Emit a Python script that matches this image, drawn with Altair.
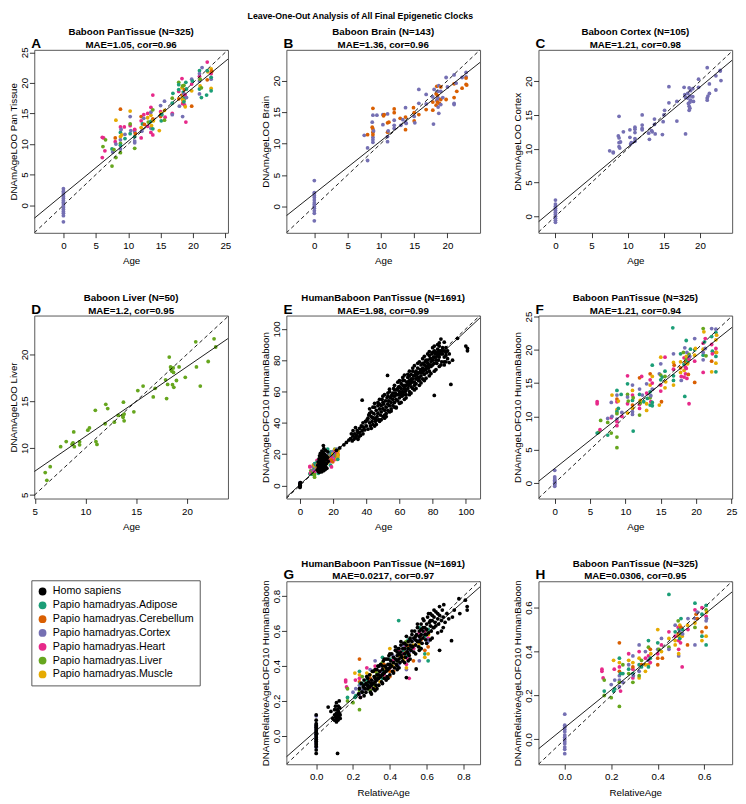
import altair as alt
import pandas as pd

FONT = "Liberation Sans"
TISSUES = ["Homo sapiens", "Papio hamadryas.Adipose", "Papio hamadryas.Cerebellum",
           "Papio hamadryas.Cortex", "Papio hamadryas.Heart", "Papio hamadryas.Liver",
           "Papio hamadryas.Muscle"]
CODES = ["H", "A", "B", "C", "R", "L", "M"]
COLORS = ["#000000", "#1B9E77", "#D95F02", "#7570B3", "#E7298A", "#66A61E", "#E6AB02"]

# ---------------- Panel A: Baboon PanTissue (age, DNAmAgeLOO, tissue) -------------
A_PTS = [
    (0, 2.7, "C"), (0, 2.3, "C"), (0, 2.0, "C"), (0, 1.7, "C"), (0, 1.4, "C"), (0, 1.1, "C"),
    (0, 0.8, "C"), (0, 0.5, "C"), (0, 0.2, "C"), (0, -0.1, "C"), (0, -0.4, "C"), (0, -0.7, "C"),
    (0, -1.0, "C"), (0, -1.3, "C"), (0, -1.7, "C"), (0, -2.7, "C"),
    (6.0, 11.1, "R"), (6.0, 7.8, "R"), (6.1, 9.6, "L"), (6.2, 11.0, "R"), (6.5, 10.7, "L"), (6.4, 8.9, "R"),
    (7.5, 9.2, "A"), (7.5, 6.4, "L"), (7.6, 8.7, "C"), (7.8, 9.1, "L"),
    (8.0, 10.4, "R"), (8.1, 13.9, "M"), (8.1, 10.0, "C"), (8.1, 7.8, "L"), (8.0, 11.0, "B"),
    (8.8, 15.7, "B"), (8.8, 12.8, "R"), (8.8, 11.9, "A"), (8.8, 11.2, "M"), (8.8, 10.7, "C"),
    (8.8, 10.1, "L"), (8.8, 9.8, "A"), (8.8, 9.2, "C"), (8.8, 8.6, "L"), (8.9, 12.4, "C"), (9.0, 11.5, "M"),
    (9.4, 12.8, "R"), (9.5, 10.9, "A"), (9.5, 11.6, "C"),
    (10.3, 15.4, "M"), (10.3, 14.5, "C"), (10.3, 13.0, "R"), (10.3, 11.7, "A"), (10.3, 13.3, "L"), (10.4, 12.2, "C"),
    (11.0, 12.3, "M"), (11.0, 12.0, "C"), (11.0, 11.2, "A"), (11.0, 10.2, "C"), (11.0, 9.3, "L"),
    (11.0, 12.4, "R"), (11.0, 10.5, "C"), (11.1, 11.7, "B"),
    (12.0, 14.5, "B"), (12.0, 13.8, "R"), (12.0, 12.7, "M"), (12.0, 11.0, "R"), (12.1, 12.1, "C"), (12.2, 13.3, "A"),
    (12.4, 14.8, "R"), (12.5, 13.2, "B"), (12.4, 14.2, "C"),
    (13.0, 12.9, "R"), (13.0, 14.3, "M"), (13.1, 13.6, "L"), (13.0, 15.0, "R"),
    (13.5, 16.0, "R"), (13.5, 14.7, "M"), (13.5, 13.7, "A"), (13.5, 12.6, "C"), (13.5, 11.9, "R"),
    (13.6, 13.0, "M"), (13.5, 15.2, "C"),
    (13.8, 18.0, "R"), (13.8, 14.1, "B"), (13.8, 12.5, "A"), (13.8, 11.5, "R"), (13.9, 13.8, "M"), (13.8, 15.6, "L"),
    (14.8, 12.2, "M"), (15.0, 15.3, "R"), (15.0, 14.5, "B"), (15.0, 16.3, "C"), (15.1, 15.0, "M"),
    (15.1, 13.8, "A"), (15.2, 14.8, "A"),
    (15.6, 17.0, "C"), (15.6, 15.5, "M"), (15.7, 14.4, "R"), (15.6, 13.9, "L"),
    (16.8, 17.5, "L"), (16.8, 16.7, "A"), (16.8, 15.0, "R"), (16.9, 18.3, "A"), (16.8, 14.8, "C"),
    (17.8, 20.1, "L"), (17.8, 18.6, "R"), (17.8, 18.9, "A"), (17.9, 16.2, "C"), (17.8, 17.4, "B"), (17.8, 19.7, "A"),
    (18.3, 20.7, "R"), (18.3, 19.2, "M"), (18.3, 18.0, "B"), (18.4, 17.3, "M"), (18.4, 16.6, "R"),
    (18.4, 14.5, "C"), (18.5, 17.8, "M"), (18.5, 16.9, "B"), (18.5, 18.5, "A"), (18.6, 19.6, "L"),
    (18.6, 18.2, "C"), (18.6, 17.1, "M"), (18.7, 16.4, "R"), (18.7, 18.9, "B"), (18.7, 17.5, "A"),
    (18.8, 16.1, "M"), (18.8, 18.0, "R"), (18.9, 13.6, "R"), (19.0, 19.0, "A"), (19.0, 17.6, "C"),
    (18.9, 20.1, "A"), (18.5, 17.2, "M"), (18.4, 19.5, "L"), (18.6, 16.9, "A"),
    (19.8, 20.6, "C"), (19.8, 19.8, "R"), (19.8, 16.2, "B"), (19.8, 18.7, "M"), (19.9, 20.3, "A"),
    (21.0, 22.0, "A"), (21.0, 21.1, "R"), (21.0, 20.3, "C"), (21.0, 19.0, "A"), (21.0, 18.2, "C"),
    (21.1, 20.6, "L"), (21.0, 21.5, "C"), (21.1, 19.5, "M"),
    (21.3, 17.6, "A"), (21.3, 19.2, "L"), (21.4, 22.5, "C"),
    (22.2, 23.4, "R"), (22.2, 20.5, "B"), (22.1, 18.0, "A"), (22.3, 21.8, "M"), (22.2, 22.0, "A"),
    (22.8, 22.3, "M"), (22.8, 21.5, "R"), (22.8, 20.6, "C"), (22.8, 19.1, "M"), (22.8, 18.7, "A"),
    (22.8, 20.9, "A"), (22.9, 21.9, "B"),
]

# ---------------- Panel B: Baboon Brain ----------------
B_PTS = [
    (0, 4.1, "C"), (0, 2.2, "C"), (0, 2.0, "C"), (0, 1.7, "C"), (0, 1.4, "C"), (0, 1.0, "C"), (0, 0.6, "C"),
    (0, 0.3, "C"), (0, 0.0, "C"), (0, -0.3, "C"), (0, -0.7, "C"), (0, -1.1, "C"), (0, -2.3, "C"),
    (7.5, 11.3, "C"), (8.0, 11.4, "B"), (8.0, 7.3, "C"), (8.0, 9.3, "C"), (8.7, 13.4, "C"), (8.7, 12.6, "B"),
    (8.8, 15.6, "B"), (8.8, 14.5, "C"), (8.8, 12.3, "B"), (8.8, 11.8, "B"), (8.8, 11.0, "C"), (8.8, 10.6, "C"),
    (8.8, 10.2, "C"), (8.9, 12.0, "C"), (8.8, 11.4, "B"), (9.4, 14.5, "C"), (10.3, 14.6, "C"), (10.3, 13.0, "C"),
    (10.4, 14.4, "B"), (10.5, 14.6, "B"), (11.0, 14.7, "C"), (11.0, 13.3, "B"), (11.0, 11.8, "B"), (11.0, 11.1, "C"),
    (11.0, 10.3, "C"), (11.1, 12.0, "C"), (11.2, 13.4, "B"), (12.0, 15.5, "B"), (12.0, 14.9, "B"), (12.0, 13.7, "C"),
    (12.0, 12.9, "C"), (12.0, 12.4, "C"), (12.9, 14.0, "B"), (13.0, 12.9, "C"), (13.3, 13.8, "C"), (13.7, 15.7, "C"),
    (13.7, 14.2, "B"), (13.7, 13.4, "C"), (13.7, 12.2, "B"), (13.8, 13.2, "C"), (14.9, 15.7, "B"), (15.0, 14.9, "B"),
    (15.0, 13.6, "B"), (15.0, 14.3, "C"), (15.1, 13.3, "C"), (15.7, 18.6, "C"), (15.7, 16.4, "C"), (15.7, 14.6, "B"),
    (16.8, 15.4, "B"), (16.8, 16.3, "C"), (16.8, 17.8, "C"), (17.8, 17.4, "C"), (17.8, 16.6, "B"), (17.8, 15.3, "B"),
    (17.9, 13.1, "C"), (18.0, 18.6, "C"), (18.3, 17.9, "B"), (18.3, 16.1, "B"), (18.4, 19.1, "B"), (18.4, 16.9, "C"),
    (18.5, 17.6, "B"), (18.5, 16.6, "B"), (18.6, 15.8, "C"), (18.6, 18.3, "C"), (18.6, 17.2, "C"), (18.7, 14.8, "C"),
    (18.7, 19.2, "C"), (18.8, 16.4, "B"), (19.0, 18.3, "C"), (19.0, 17.0, "B"), (19.0, 16.2, "C"), (19.0, 19.0, "B"),
    (19.3, 17.3, "C"), (19.8, 20.5, "C"), (19.8, 17.0, "B"), (20.0, 19.0, "C"), (21.0, 20.9, "C"), (21.0, 19.5, "B"),
    (21.0, 17.3, "B"), (21.0, 16.4, "C"), (21.0, 16.2, "C"), (21.3, 19.6, "C"), (21.4, 18.3, "B"), (22.2, 20.5, "C"),
    (22.2, 18.8, "B"), (22.8, 21.3, "C"), (22.8, 20.6, "C"), (22.8, 20.4, "B"), (22.8, 19.4, "B"), (22.9, 19.3, "B"),
]

# ---------------- Panel C: Baboon Cortex ----------------
C_PTS = [
    (0, 2.4, "C"), (0, 1.8, "C"), (0, 1.5, "C"), (0, 1.2, "C"), (0, 0.9, "C"), (0, 0.6, "C"), (0, 0.3, "C"),
    (0, 0.0, "C"), (0, -0.3, "C"), (0, -0.6, "C"), (0, -0.9, "C"),
    (7.5, 9.7, "C"), (8.0, 9.5, "C"), (8.0, 9.4, "C"), (8.7, 11.9, "C"), (8.8, 14.8, "C"), (8.8, 11.6, "C"),
    (8.8, 10.9, "C"), (8.8, 10.3, "C"), (8.9, 10.1, "C"), (9.0, 11.0, "C"), (9.4, 12.5, "C"), (10.3, 12.8, "C"),
    (10.3, 11.7, "C"), (10.4, 10.7, "C"), (10.5, 10.9, "C"), (11.0, 13.2, "C"), (11.0, 12.9, "C"), (11.0, 12.4, "C"),
    (11.0, 11.5, "C"), (11.0, 11.1, "C"), (12.0, 15.0, "C"), (12.0, 13.5, "C"), (12.0, 13.0, "C"), (12.0, 12.8, "C"),
    (12.9, 12.3, "C"), (13.0, 11.4, "C"), (13.3, 12.7, "C"), (13.4, 12.5, "C"), (13.7, 14.4, "C"), (13.7, 13.6, "C"),
    (13.8, 12.2, "C"), (14.8, 12.1, "C"), (14.9, 14.0, "C"), (15.0, 15.0, "C"), (15.1, 15.7, "C"), (15.7, 19.2, "C"),
    (15.7, 16.8, "C"), (16.8, 17.0, "C"), (16.8, 14.1, "C"), (17.8, 19.1, "C"), (17.9, 18.0, "C"), (18.0, 12.2, "C"),
    (18.0, 17.6, "C"), (18.3, 18.2, "C"), (18.3, 17.5, "C"), (18.4, 16.7, "C"), (18.5, 16.3, "C"), (18.5, 15.7, "C"),
    (18.5, 19.0, "C"), (18.6, 17.8, "C"), (18.6, 16.9, "C"), (18.6, 16.0, "C"), (18.7, 17.2, "C"), (18.7, 18.6, "C"),
    (19.0, 18.9, "C"), (19.0, 17.7, "C"), (19.1, 17.0, "C"), (19.8, 20.3, "C"), (19.8, 19.1, "C"), (21.0, 22.0, "C"),
    (21.0, 17.5, "C"), (21.0, 17.2, "C"), (21.1, 17.8, "C"), (21.3, 19.6, "C"), (21.3, 18.2, "C"), (22.2, 18.7, "C"),
    (22.2, 20.8, "C"), (22.8, 21.6, "C"), (22.8, 21.5, "C"), (22.9, 20.1, "C"),
]

# ---------------- Panel D: Baboon Liver ----------------
D_PTS = [
    (6.03, 7.38, "L"), (6.19, 6.55, "L"), (6.52, 8.0, "L"), (7.55, 10.14, "L"), (8.1, 10.69, "L"),
    (8.68, 10.41, "L"), (8.77, 10.55, "L"), (8.84, 11.72, "L"), (8.9, 10.14, "L"), (9.42, 10.66, "L"),
    (9.42, 10.34, "L"), (10.23, 11.9, "L"), (10.39, 12.14, "L"), (10.97, 14.03, "L"), (11.03, 10.69, "L"),
    (11.13, 10.38, "L"), (12.0, 14.66, "L"), (12.19, 14.21, "L"), (11.94, 12.59, "L"), (12.84, 12.76, "L"),
    (13.23, 13.48, "L"), (13.68, 13.45, "L"), (13.71, 13.28, "L"), (13.81, 13.62, "L"), (13.74, 14.9, "L"),
    (13.81, 12.9, "L"), (14.77, 13.86, "L"), (15.16, 16.14, "L"), (15.68, 16.62, "L"), (16.68, 15.45, "L"),
    (16.87, 16.38, "L"), (17.9, 17.28, "L"), (18.0, 15.28, "L"), (18.1, 16.79, "L"), (18.26, 19.72, "L"),
    (18.39, 18.66, "L"), (18.45, 18.41, "L"), (18.52, 18.2, "L"), (18.58, 16.76, "L"), (18.65, 18.55, "L"),
    (18.68, 18.07, "L"), (18.71, 16.48, "L"), (18.97, 17.21, "L"), (19.23, 18.66, "L"), (19.84, 17.55, "L"),
    (20.87, 21.34, "L"), (20.94, 18.66, "L"), (21.32, 16.62, "L"), (22.1, 19.24, "L"), (22.68, 21.66, "L"),
    (22.84, 20.79, "L"),
]

# ---------------- Panel F: Baboon PanTissue, HumanBaboon clock ----------------
F_PTS = [
    (0, 1.9, "C"), (0, 0.9, "C"), (0, 0.6, "C"), (0, 0.4, "C"), (0, 0.2, "C"), (0, 0.0, "C"), (0, -0.1, "C"),
    (0, -0.3, "C"), (0, -0.5, "C"),
    (6.0, 12.2, "R"), (6.0, 11.9, "R"), (6.2, 7.6, "L"), (6.0, 7.5, "A"), (6.5, 9.4, "L"), (6.4, 8.0, "R"),
    (7.5, 9.7, "C"), (7.5, 7.2, "A"), (7.5, 9.1, "L"), (8.0, 9.8, "R"), (8.0, 7.5, "L"), (8.0, 12.1, "C"),
    (8.1, 13.2, "M"), (8.1, 10.0, "C"),
    (8.8, 13.9, "A"), (8.8, 13.2, "C"), (8.8, 12.6, "B"), (8.8, 12.2, "R"), (8.8, 11.0, "M"), (8.8, 10.7, "A"),
    (8.8, 10.4, "L"), (8.8, 9.6, "C"), (8.8, 9.2, "R"), (8.8, 8.6, "R"), (8.8, 6.9, "L"), (8.8, 5.3, "L"),
    (9.0, 11.2, "A"), (9.0, 12.3, "M"), (9.4, 13.3, "A"), (9.5, 10.0, "R"), (9.5, 10.6, "C"),
    (10.3, 16.1, "R"), (10.3, 14.9, "A"), (10.3, 13.3, "L"), (10.3, 12.9, "C"), (10.3, 11.9, "R"),
    (10.3, 10.5, "M"), (10.4, 12.3, "L"),
    (11.0, 14.7, "C"), (11.0, 13.9, "M"), (11.0, 13.2, "R"), (11.0, 12.4, "A"), (11.0, 11.7, "B"),
    (11.0, 11.2, "M"), (11.0, 10.7, "C"), (11.0, 10.3, "C"), (11.1, 7.8, "A"), (11.1, 12.8, "L"),
    (12.0, 15.8, "B"), (12.0, 14.1, "C"), (12.0, 13.3, "A"), (12.0, 11.8, "R"), (12.0, 11.2, "R"),
    (12.0, 10.2, "L"), (12.1, 12.4, "M"), (12.1, 12.0, "L"), (12.3, 16.0, "R"), (12.4, 13.2, "C"), (12.6, 12.2, "A"),
    (13.0, 14.9, "C"), (13.0, 13.5, "R"), (13.0, 11.9, "M"), (13.0, 10.9, "M"), (13.1, 12.7, "A"),
    (13.5, 16.4, "B"), (13.5, 15.5, "R"), (13.5, 14.7, "M"), (13.5, 13.7, "A"), (13.5, 12.8, "L"),
    (13.5, 11.7, "A"), (13.6, 13.1, "C"), (13.6, 12.2, "R"),
    (13.8, 17.7, "A"), (13.8, 16.0, "M"), (13.8, 15.0, "R"), (13.8, 14.1, "C"), (13.8, 12.1, "A"), (13.8, 11.6, "A"),
    (14.8, 16.4, "C"), (14.8, 11.7, "M"), (15.0, 18.9, "M"), (15.0, 17.9, "C"), (15.0, 16.2, "L"),
    (15.0, 15.5, "A"), (15.0, 14.7, "R"), (15.0, 13.8, "R"), (15.1, 12.2, "B"), (15.2, 15.9, "A"),
    (15.6, 18.9, "R"), (15.6, 16.8, "A"), (15.6, 16.0, "L"), (15.7, 15.2, "M"), (15.6, 14.3, "M"),
    (16.7, 23.3, "A"), (16.8, 19.4, "C"), (16.8, 18.1, "M"), (16.8, 17.1, "R"), (16.8, 16.1, "A"),
    (16.8, 15.4, "A"), (16.8, 14.7, "M"), (16.9, 17.7, "B"),
    (17.8, 19.4, "A"), (17.8, 18.2, "M"), (17.8, 17.3, "B"), (17.8, 16.6, "M"), (17.9, 15.4, "C"), (17.9, 16.0, "R"),
    (18.2, 19.6, "L"), (18.3, 18.8, "R"), (18.3, 17.8, "A"), (18.3, 16.9, "M"), (18.3, 15.9, "R"),
    (18.4, 13.0, "A"), (18.4, 20.3, "C"), (18.5, 18.2, "B"), (18.5, 17.4, "R"), (18.5, 16.4, "R"),
    (18.6, 21.4, "A"), (18.6, 19.0, "M"), (18.6, 18.5, "L"), (18.6, 17.2, "R"), (18.7, 15.7, "R"),
    (18.7, 19.6, "C"), (18.8, 18.1, "A"), (18.8, 17.9, "M"), (18.9, 16.3, "B"), (19.0, 11.9, "R"),
    (19.0, 18.6, "R"), (19.0, 19.3, "L"), (19.1, 19.0, "C"), (19.2, 20.1, "A"),
    (19.8, 21.7, "C"), (19.8, 20.0, "A"), (19.8, 19.2, "M"), (19.8, 18.3, "R"), (19.8, 15.1, "B"), (19.9, 20.2, "M"),
    (21.0, 23.2, "L"), (21.0, 21.0, "R"), (21.0, 20.1, "M"), (21.0, 19.2, "A"), (21.0, 18.5, "C"),
    (21.0, 16.6, "R"), (21.0, 19.6, "C"), (21.1, 22.7, "M"), (21.2, 21.2, "A"),
    (21.3, 21.7, "R"), (21.3, 20.2, "C"), (21.4, 19.1, "L"),
    (22.2, 23.2, "C"), (22.2, 22.0, "A"), (22.2, 20.8, "R"), (22.2, 18.3, "B"), (22.2, 16.7, "M"),
    (22.3, 19.8, "A"), (22.3, 19.4, "R"),
    (22.8, 23.1, "C"), (22.8, 22.6, "A"), (22.8, 21.5, "M"), (22.8, 20.2, "R"), (22.8, 19.6, "B"),
    (22.8, 19.0, "A"), (22.8, 18.0, "M"), (22.8, 16.7, "A"), (22.9, 19.6, "M"), (22.9, 22.2, "M"),
]

# ---------------- Panel E: human samples (age, DNAmAgeLOFO10) ----------------
E_HUMAN = [
    (0, -1.2), (0, -0.5), (0, 0.2), (0, 0.8), (0, 1.5), (0.3, 1.9), (0.2, -0.2),
    (10.5, 10), (10.8, 13), (11, 9), (11, 15), (11.2, 11.5), (11.5, 17), (11.7, 8.5), (12, 12), (12, 14),
    (12, 16), (12.2, 10), (12.4, 18), (12.5, 9.5), (12.6, 13), (12.8, 15.5), (13, 11), (13, 17.5),
    (13.1, 8.8), (13.3, 14), (13.4, 19.5), (13.5, 12.3), (13.6, 10.5), (13.8, 16), (14, 13), (14, 21),
    (14.1, 25.5), (14.2, 9.5), (14.3, 18), (14.5, 11.5), (14.6, 15), (14.8, 20), (15, 13.5), (15, 17),
    (15.2, 10.2), (15.3, 22.5), (15.5, 12), (15.6, 16.5), (15.8, 19), (16, 14), (16.2, 11), (16.5, 18),
    (16.8, 21.5), (17, 15.5), (14.4, 23.5), (13.2, 22), (12.3, 20.5), (11.8, 19),
    (22, 22.5), (24, 24), (26.5, 26), (28, 27.5), (29.5, 29),
    (30.5, 30), (31, 33), (31.5, 28.5), (32, 31.5), (32, 35), (32.5, 29.5), (33, 33), (33.5, 30.5),
    (33.5, 37), (34, 32), (34.5, 35), (35, 29.5), (35, 33.5), (35.5, 31), (36, 36.5), (36, 34),
    (36.5, 32), (37, 38), (37.5, 35), (38, 33), (38, 40), (38.5, 37), (39, 35.5), (39.5, 41), (40, 38),
    (37.5, 54.5), (52.8, 70.3),
    (40.5, 42), (41, 36), (41.5, 45), (42, 40), (42.5, 38), (43, 44), (43, 47), (43.5, 41), (44, 39),
    (44.5, 46), (45, 43), (45, 50), (45.5, 41), (46, 48), (46.5, 44), (47, 46), (47, 53), (47.5, 42),
    (48, 49), (48.5, 45), (49, 51), (49, 47), (49.5, 55), (50, 49), (50, 44), (50.5, 52), (51, 48),
    (51.5, 54), (52, 50), (52, 46), (52.5, 56), (53, 52), (53, 48), (53.5, 54), (54, 51), (54, 60),
    (54.5, 56), (55, 53), (55, 49), (55.5, 58), (56, 55), (56, 51), (56.5, 62), (57, 57), (57, 53),
    (57.5, 59), (58, 55), (58, 50), (58.5, 61), (59, 58), (59, 54), (59.5, 63), (60, 60), (60, 56),
    (60.5, 58), (61, 62), (61, 65), (61.5, 57), (62, 60), (62, 64), (62.5, 58), (63, 62), (63, 67),
    (63.5, 60), (64, 64), (64, 58), (64.5, 66), (65, 62), (65, 69), (65.5, 64), (66, 60), (66, 67),
    (66.5, 65), (67, 63), (67, 71), (67.5, 66), (68, 68), (68, 62), (68.5, 70), (69, 66), (69, 64),
    (69.5, 72), (70, 68), (70, 65), (70.5, 71), (71, 69), (71, 75), (71.5, 67), (72, 72), (72, 69),
    (72.5, 74), (73, 70), (73, 77), (73.5, 72), (74, 75), (74, 68), (74.5, 73), (75, 77), (75, 71),
    (75.5, 79), (76, 74), (76, 76), (76.5, 72), (77, 78), (77, 80), (77.5, 75), (78, 77), (78, 73),
    (78.5, 81), (79, 79), (79, 76), (79.5, 84), (80, 80), (80, 77), (80.5, 82), (81, 86), (81, 78),
    (81, 57.5), (81.5, 84), (82, 80), (82, 85), (82.5, 78), (83, 83), (83, 87), (83.5, 80), (84, 82),
    (84, 86), (85, 93.5), (85, 84), (85.5, 79), (86, 84), (86, 88), (87, 82), (87, 79), (88, 85),
    (88, 83), (89, 81), (89, 86), (90, 84), (91, 64.5), (92, 80), (95, 94), (100, 89), (101, 87.5), (101, 86),
    (41, 43), (42, 46), (44, 43), (46, 42), (48, 52), (50, 53), (51, 45), (53, 57), (55, 57), (57, 61),
    (58, 58), (59, 62), (60, 63), (61, 59), (62, 67), (63, 64), (64, 61), (65, 66), (66, 70), (67, 68),
    (68, 73), (69, 70), (70, 73), (71, 72), (72, 67), (73, 74), (74, 78), (75, 74), (76, 80), (77, 76),
    (78, 83), (79, 81), (80, 85), (81, 82), (82, 82), (83, 85), (84, 89), (86, 86), (87, 86), (88, 88),
    (84, 84), (85, 86),
    (42, 49), (45, 52.5), (48, 55), (51, 58), (54, 61.5), (57, 64), (60, 67), (63, 70.5), (66, 73),
    (69, 76.5), (72, 79), (75, 82.5), (78, 85.5), (81, 89), (84, 91), (87, 91.5),
    (43, 36.5), (46, 39), (49, 42), (52, 44), (55, 47.5), (58, 49.5), (61, 53), (64, 56), (67, 59),
    (70, 62), (73, 65.5), (76, 68.5), (79, 71.5), (82, 74), (85, 77), (88, 79), (90, 78.5),
    (44, 50), (47, 51), (50, 57), (53, 59), (56, 59), (59, 66), (62, 69), (65, 71), (68, 75), (71, 78),
    (74, 81), (77, 84), (80, 88), (83, 90), (45, 38), (48, 41), (51, 43), (54, 47), (57, 50), (60, 52.5),
    (63, 55), (66, 58), (69, 61), (72, 64), (75, 67), (78, 70), (81, 73), (84, 76), (87, 77),
]

# ---------------- Panel H: Baboon PanTissue, relative age ----------------
H_PTS = [
    (0, 0.115, "C"), (0, 0.065, "C"), (0, 0.055, "C"), (0, 0.045, "C"), (0, 0.035, "C"), (0, 0.02, "C"),
    (0, 0.01, "C"), (0, 0.0, "C"), (0, -0.01, "C"), (0, -0.02, "C"), (0, -0.035, "C"), (0, -0.045, "C"),
    (0, -0.065, "C"),
    (0.16, 0.32, "R"), (0.16, 0.31, "R"), (0.165, 0.28, "R"), (0.17, 0.20, "L"), (0.17, 0.27, "L"), (0.17, 0.22, "A"),
    (0.20, 0.25, "C"), (0.20, 0.19, "L"), (0.21, 0.22, "A"), (0.21, 0.36, "M"),
    (0.213, 0.32, "R"), (0.215, 0.27, "C"), (0.215, 0.23, "A"),
    (0.235, 0.44, "B"), (0.235, 0.37, "A"), (0.235, 0.35, "M"), (0.235, 0.33, "R"), (0.235, 0.31, "B"),
    (0.235, 0.29, "C"), (0.235, 0.27, "C"), (0.235, 0.26, "L"), (0.235, 0.24, "C"), (0.235, 0.15, "L"),
    (0.24, 0.30, "A"), (0.24, 0.22, "R"),
    (0.25, 0.34, "L"), (0.25, 0.30, "A"), (0.25, 0.26, "C"),
    (0.275, 0.39, "R"), (0.275, 0.36, "M"), (0.275, 0.34, "C"), (0.275, 0.32, "A"), (0.275, 0.30, "L"),
    (0.293, 0.38, "C"), (0.293, 0.35, "M"), (0.293, 0.32, "R"), (0.293, 0.30, "A"), (0.293, 0.28, "R"),
    (0.293, 0.26, "L"), (0.295, 0.29, "C"), (0.293, 0.33, "B"),
    (0.32, 0.43, "C"), (0.32, 0.40, "R"), (0.32, 0.37, "M"), (0.32, 0.34, "A"), (0.32, 0.31, "C"),
    (0.32, 0.28, "M"), (0.32, 0.29, "L"),
    (0.33, 0.36, "L"), (0.33, 0.34, "B"), (0.33, 0.33, "A"),
    (0.347, 0.40, "C"), (0.347, 0.37, "R"), (0.347, 0.34, "M"), (0.347, 0.31, "M"),
    (0.36, 0.45, "A"), (0.36, 0.42, "L"), (0.36, 0.38, "R"), (0.36, 0.36, "C"), (0.36, 0.34, "M"), (0.36, 0.33, "A"),
    (0.368, 0.41, "B"), (0.368, 0.37, "A"), (0.368, 0.35, "R"), (0.37, 0.39, "M"),
    (0.40, 0.50, "M"), (0.40, 0.44, "A"), (0.40, 0.41, "C"), (0.40, 0.39, "R"), (0.40, 0.37, "B"),
    (0.40, 0.34, "B"), (0.405, 0.41, "L"),
    (0.416, 0.46, "C"), (0.416, 0.43, "R"), (0.416, 0.40, "M"), (0.42, 0.37, "B"),
    (0.448, 0.66, "A"), (0.448, 0.49, "R"), (0.448, 0.46, "M"), (0.448, 0.42, "L"), (0.448, 0.41, "C"),
    (0.475, 0.52, "C"), (0.475, 0.49, "A"), (0.475, 0.47, "R"), (0.475, 0.45, "M"), (0.475, 0.43, "M"),
    (0.488, 0.54, "L"), (0.488, 0.51, "R"), (0.488, 0.48, "B"), (0.49, 0.47, "M"), (0.49, 0.45, "R"),
    (0.49, 0.41, "R"), (0.49, 0.38, "C"), (0.492, 0.50, "A"), (0.495, 0.52, "M"), (0.495, 0.49, "C"),
    (0.495, 0.46, "A"), (0.498, 0.44, "R"), (0.5, 0.48, "L"), (0.5, 0.51, "B"), (0.5, 0.55, "A"),
    (0.505, 0.33, "R"), (0.505, 0.47, "M"), (0.49, 0.39, "M"),
    (0.507, 0.50, "A"), (0.507, 0.48, "C"),
    (0.528, 0.52, "M"), (0.528, 0.43, "B"), (0.53, 0.55, "C"), (0.53, 0.50, "R"),
    (0.56, 0.62, "A"), (0.56, 0.59, "R"), (0.56, 0.55, "C"), (0.56, 0.53, "M"), (0.56, 0.51, "L"),
    (0.56, 0.43, "C"), (0.565, 0.57, "B"), (0.57, 0.58, "C"), (0.57, 0.55, "B"),
    (0.59, 0.60, "R"), (0.59, 0.49, "B"), (0.59, 0.45, "M"), (0.59, 0.47, "A"), (0.59, 0.57, "A"),
    (0.608, 0.61, "A"), (0.608, 0.59, "L"), (0.608, 0.56, "R"), (0.608, 0.54, "C"), (0.608, 0.51, "B"),
    (0.608, 0.47, "M"), (0.608, 0.43, "A"), (0.61, 0.58, "M"), (0.61, 0.55, "C"),
]

# ---------------- Panel G: human samples (relative age, DNAmRelativeAgeLOFO10) ----------------
G_HUMAN = [
    (0, 0.12), (0, 0.09), (0, 0.07), (0, 0.06), (0, 0.05), (0, 0.04), (0, 0.03), (0, 0.02), (0, 0.01),
    (0, 0.0), (0, -0.01), (0, -0.02), (0, -0.03), (0, -0.04), (0, -0.05), (0, -0.06), (0, -0.08), (0, -0.1),
    (0.065, 0.165), (0.08, 0.14), (0.09, 0.10),
    (0.10, 0.12), (0.10, 0.09), (0.10, 0.15), (0.105, 0.11), (0.105, 0.17), (0.11, 0.08), (0.11, 0.13),
    (0.11, 0.19), (0.112, 0.10), (0.115, 0.15), (0.115, 0.12), (0.118, 0.09), (0.12, 0.17), (0.12, 0.14),
    (0.122, 0.11), (0.125, 0.13), (0.125, 0.20), (0.128, 0.16), (0.13, 0.12), (0.13, 0.10), (0.116, -0.10),
    (0.23, 0.24), (0.235, 0.27), (0.24, 0.22), (0.245, 0.30), (0.25, 0.25), (0.255, 0.28), (0.26, 0.23),
    (0.26, 0.32), (0.265, 0.27), (0.27, 0.25), (0.27, 0.30), (0.275, 0.34), (0.28, 0.27), (0.285, 0.31),
    (0.29, 0.28), (0.29, 0.35), (0.295, 0.25), (0.30, 0.32), (0.30, 0.29), (0.305, 0.37), (0.31, 0.30),
    (0.31, 0.27), (0.315, 0.34), (0.32, 0.31), (0.32, 0.38), (0.325, 0.29), (0.33, 0.35), (0.33, 0.32),
    (0.335, 0.40), (0.34, 0.33), (0.34, 0.29), (0.345, 0.37), (0.35, 0.34), (0.35, 0.41), (0.355, 0.31),
    (0.36, 0.38), (0.36, 0.35), (0.365, 0.43), (0.37, 0.36), (0.37, 0.33), (0.375, 0.40), (0.38, 0.37),
    (0.38, 0.44), (0.385, 0.34), (0.39, 0.41), (0.39, 0.38), (0.395, 0.46), (0.40, 0.39), (0.40, 0.35),
    (0.405, 0.43), (0.41, 0.40), (0.41, 0.47), (0.415, 0.37), (0.42, 0.42), (0.42, 0.45), (0.425, 0.39),
    (0.43, 0.44), (0.43, 0.49), (0.435, 0.41), (0.44, 0.46), (0.44, 0.40), (0.445, 0.50), (0.45, 0.44),
    (0.45, 0.47), (0.455, 0.42), (0.46, 0.48), (0.46, 0.52), (0.465, 0.45), (0.47, 0.50), (0.47, 0.43),
    (0.475, 0.53), (0.48, 0.47), (0.48, 0.50), (0.485, 0.45), (0.49, 0.52), (0.49, 0.334), (0.495, 0.48),
    (0.50, 0.54), (0.50, 0.50), (0.505, 0.46), (0.51, 0.56), (0.51, 0.52), (0.515, 0.49), (0.52, 0.54),
    (0.52, 0.58), (0.525, 0.51), (0.53, 0.56), (0.53, 0.48), (0.535, 0.60), (0.54, 0.55), (0.54, 0.52),
    (0.543, 0.383), (0.545, 0.58), (0.55, 0.54), (0.55, 0.62), (0.555, 0.51), (0.56, 0.57), (0.56, 0.60),
    (0.565, 0.55), (0.57, 0.64), (0.57, 0.58), (0.575, 0.53), (0.58, 0.60), (0.58, 0.56), (0.585, 0.66),
    (0.59, 0.62), (0.59, 0.58), (0.595, 0.55), (0.60, 0.64), (0.60, 0.61), (0.605, 0.68), (0.61, 0.59),
    (0.615, 0.65), (0.62, 0.63), (0.62, 0.70), (0.625, 0.60), (0.63, 0.66), (0.635, 0.62), (0.64, 0.68),
    (0.645, 0.65), (0.65, 0.71), (0.65, 0.63), (0.66, 0.67), (0.665, 0.64), (0.67, 0.69), (0.67, 0.49),
    (0.68, 0.66), (0.685, 0.72), (0.69, 0.68), (0.693, 0.751), (0.70, 0.65), (0.71, 0.70), (0.72, 0.67),
    (0.735, 0.545), (0.74, 0.68), (0.75, 0.72), (0.775, 0.785), (0.78, 0.70), (0.81, 0.777), (0.82, 0.72),
    (0.82, 0.74),
    (0.28, 0.29), (0.32, 0.33), (0.36, 0.40), (0.40, 0.41), (0.44, 0.43), (0.46, 0.46), (0.48, 0.53),
    (0.50, 0.47), (0.52, 0.51), (0.54, 0.57), (0.56, 0.54), (0.58, 0.62), (0.60, 0.58), (0.62, 0.66),
    (0.64, 0.62), (0.66, 0.70), (0.44, 0.48), (0.38, 0.39), (0.34, 0.35), (0.30, 0.30),
    (0.28, 0.33), (0.31, 0.37), (0.34, 0.40), (0.37, 0.44), (0.40, 0.47), (0.43, 0.51), (0.46, 0.54),
    (0.49, 0.57), (0.52, 0.60), (0.55, 0.64), (0.58, 0.67), (0.61, 0.70), (0.64, 0.72), (0.67, 0.74),
    (0.30, 0.24), (0.33, 0.27), (0.36, 0.30), (0.39, 0.33), (0.42, 0.36), (0.45, 0.39), (0.48, 0.42),
    (0.51, 0.44), (0.54, 0.47), (0.57, 0.50), (0.60, 0.53), (0.63, 0.56), (0.66, 0.59), (0.69, 0.62),
    (0.26, 0.29), (0.33, 0.38), (0.39, 0.44), (0.45, 0.50), (0.51, 0.55), (0.57, 0.61), (0.63, 0.69),
    (0.32, 0.26), (0.38, 0.32), (0.44, 0.38), (0.50, 0.43), (0.56, 0.49), (0.62, 0.55), (0.68, 0.60),
]

# Panel titles / labels / axes / fitted lines (intercept, slope)
PANELS = [
    dict(letter="A", t1="Baboon PanTissue (N=325)", t2="MAE=1.05, cor=0.96", xl="Age",
         yl="DNAmAgeLOO Pan Tissue", dom=[-4.5, 25.4], ydom=[-4.5, 25.4], xt=[0, 5, 10, 15, 20, 25],
         yt=[0, 5, 10, 15, 20, 25], fit=(1.79, 0.87), fmt="d"),
    dict(letter="B", t1="Baboon Brain (N=143)", t2="MAE=1.36, cor=0.96", xl="Age",
         yl="DNAmAgeLOO Brain", dom=[-4.2, 24.9], ydom=[-4.2, 24.9], xt=[0, 5, 10, 15, 20],
         yt=[0, 5, 10, 15, 20], fit=(2.04, 0.838), fmt="d"),
    dict(letter="C", t1="Baboon Cortex (N=105)", t2="MAE=1.21, cor=0.98", xl="Age",
         yl="DNAmAgeLOO Cortex", dom=[-2.35, 24.45], ydom=[-2.45, 24.65], xt=[0, 5, 10, 15, 20],
         yt=[0, 5, 10, 15, 20], fit=(1.28, 0.893), fmt="d"),
    dict(letter="D", t1="Baboon Liver (N=50)", t2="MAE=1.2, cor=0.95", xl="Age",
         yl="DNAmAgeLOO Liver", dom=[4.95, 24.05], ydom=[4.6, 24.15], xt=[5, 10, 15, 20],
         yt=[5, 10, 15, 20], fit=(3.8, 0.744), fmt="d"),
    dict(letter="E", t1="HumanBaboon PanTissue (N=1691)", t2="MAE=1.98, cor=0.99", xl="Age",
         yl="DNAmAgeLOFO10 HumanBaboon", dom=[-8.2, 108.6], ydom=[-8.3, 108.5],
         xt=[0, 20, 40, 60, 80, 100], yt=[0, 20, 40, 60, 80, 100], fit=(0.6, 0.98), fmt="d"),
    dict(letter="F", t1="Baboon PanTissue (N=325)", t2="MAE=1.21, cor=0.94", xl="Age",
         yl="DNAmAgeLOFO10 HumanBaboon", dom=[-2.3, 25.1], ydom=[-2.34, 25.15],
         xt=[0, 5, 10, 15, 20, 25], yt=[0, 5, 10, 15, 20, 25], fit=(2.18, 0.845), fmt="d"),
    dict(letter="G", t1="HumanBaboon PanTissue (N=1691)", t2="MAE=0.0217, cor=0.97", xl="RelativeAge",
         yl="DNAmRelativeAgeLOFO10 HumanBaboon", dom=[-0.162, 0.89], ydom=[-0.162, 0.885],
         xt=[0.0, 0.2, 0.4, 0.6, 0.8], yt=[0.0, 0.2, 0.4, 0.6, 0.8], fit=(0.03, 0.925), fmt=".1f"),
    dict(letter="H", t1="Baboon PanTissue (N=325)", t2="MAE=0.0306, cor=0.95", xl="RelativeAge",
         yl="DNAmRelativeAgeLOFO10 HumanBaboon", dom=[-0.113, 0.72], ydom=[-0.113, 0.72],
         xt=[0.0, 0.2, 0.4, 0.6], yt=[0.0, 0.2, 0.4, 0.6], fit=(0.054, 0.858), fmt=".1f"),
]

POINTS = {
    "A": A_PTS, "B": B_PTS, "C": C_PTS, "D": D_PTS,
    "E": F_PTS + [(a, p, "H") for a, p in E_HUMAN],
    "F": F_PTS,
    "G": H_PTS + [(a, p, "H") for a, p in G_HUMAN],
    "H": H_PTS,
}

W, H = 199, 188
name_of = dict(zip(CODES, TISSUES))


def make_panel(p):
    df = pd.DataFrame(POINTS[p["letter"]], columns=["age", "pred", "code"])
    df["tissue"] = df["code"].map(name_of)
    df["ord"] = range(len(df))
    xs = alt.Scale(domain=p["dom"], nice=False, zero=False)
    ys = alt.Scale(domain=p["ydom"], nice=False, zero=False)
    xenc = alt.X("age:Q", scale=xs, axis=alt.Axis(values=p["xt"], title=p["xl"], format=p["fmt"]))
    yenc = alt.Y("pred:Q", scale=ys, axis=alt.Axis(values=p["yt"], title=p["yl"], format=p["fmt"]))

    if p["letter"] == "G":
        leg = alt.Legend(orient="none", legendX=-262, legendY=-1, title=None, symbolType="circle",
                         symbolSize=64, labelFont=FONT, labelFontSize=11, labelColor="black",
                         strokeColor="#555", fillColor="white", padding=6, rowPadding=2.2,
                         labelOffset=5, labelLimit=400, symbolStrokeWidth=0)
    else:
        leg = None

    pts = alt.Chart(df).mark_circle(size=15, opacity=1).encode(
        x=xenc, y=yenc,
        color=alt.Color("tissue:N", scale=alt.Scale(domain=TISSUES, range=COLORS), legend=leg),
        order=alt.Order("ord:Q"),
    )

    a, b = p["fit"]
    x0, x1 = p["dom"]
    fit_df = pd.DataFrame({"age": [x0, x1], "pred": [a + b * x0, a + b * x1]})
    ident_df = pd.DataFrame({"age": [x0, x1], "pred": [x0, x1]})
    fit = alt.Chart(fit_df).mark_line(color="black", strokeWidth=0.9, clip=True).encode(x=xenc, y=yenc)
    ident = alt.Chart(ident_df).mark_line(color="black", strokeWidth=0.9, strokeDash=[4, 3],
                                          clip=True).encode(x=xenc, y=yenc)
    letter = alt.Chart(pd.DataFrame({"t": [p["letter"]]})).mark_text(
        align="left", baseline="bottom", font=FONT, fontSize=14, fontWeight="bold", color="black"
    ).encode(text="t:N", x=alt.value(-3), y=alt.value(1))

    return alt.layer(pts, ident, fit, letter).properties(
        width=W, height=H,
        title=alt.TitleParams(text=[p["t1"], p["t2"]], font=FONT, fontSize=10, fontWeight="bold",
                              anchor="middle", offset=-13, lineHeight=13, color="black"),
    )


spacer = alt.Chart(pd.DataFrame({"v": [0]})).mark_point(opacity=0).encode(
    x=alt.X("v:Q", axis=None), y=alt.Y("v:Q", axis=None)
).properties(width=W, height=H, view=alt.ViewBackground(strokeOpacity=0))

cells = [make_panel(p) for p in PANELS[:6]] + [spacer] + [make_panel(p) for p in PANELS[6:]]

chart = alt.concat(
    *cells, columns=3, spacing={"row": 85, "column": 60}, bounds="flush",
    title=alt.TitleParams(text="Leave-One-Out Analysis of All Final Epigenetic Clocks", font=FONT,
                          fontSize=9, fontWeight="bold", anchor="middle", color="black", dx=-13, offset=6),
).resolve_scale(color="independent").resolve_legend(color="independent").properties(
    padding={"left": 0, "top": -7, "right": 0, "bottom": 0}
).configure_view(stroke="#555", strokeWidth=1).configure_axis(
    domain=False, grid=False, tickColor="black", tickSize=5, tickWidth=0.8,
    labelFont=FONT, labelFontSize=10, labelColor="black",
    labelFlush=False, labelOverlap=False,
    titleFont=FONT, titleFontSize=10, titleFontWeight="normal", titleColor="black",
).configure_axisY(labelAngle=270, labelAlign="center", labelBaseline="bottom", labelPadding=0,
                  titlePadding=1
).configure_axisX(labelPadding=3, titlePadding=6)

chart.save("out.html", embed_options={"renderer": "svg", "actions": False})
